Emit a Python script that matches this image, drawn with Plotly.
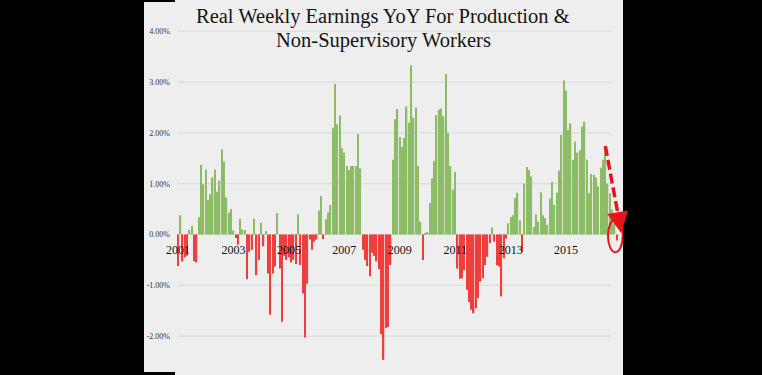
import pandas as pd
import plotly.graph_objects as go

# ---------------- data ----------------
start_month = "2001-01-01"
yoy_values = [
    -0.62, 0.38, -0.53, -0.45, -0.42, 0.09, 0.17, -0.52, -0.55, 0.34,
    1.37, 0.99, 1.28, 0.68, 0.79, 1.12, 1.28, 0.84, 1.06, 1.68,
    1.43, 0.73, 0.43, 0.50, 0.08, -0.07, -0.20, 0.31, 0.10, 0.09,
    -0.88, -0.34, -0.30, 0.31, -0.80, -0.50, 0.23, -0.23, 0.07, -0.77,
    -1.58, -0.77, -0.63, 0.42, -0.67, -1.72, -0.42, -0.50, -0.45, -0.55,
    -0.50, -0.58, 0.40, -0.60, -1.16, -2.03, -0.97, -0.10, -0.30, -0.14,
    -0.10, 0.47, 0.76, -0.09, 0.30, 0.43, 0.58, 2.10, 2.96, 2.17,
    2.34, 1.70, 1.61, 1.35, 1.27, 1.35, 1.35, 1.35, 1.98, 1.30,
    -0.30, -0.50, -0.62, -0.82, -0.36, -0.42, -0.53, -0.68, -1.96, -2.47,
    -1.84, -1.82, -0.60, 1.47, 2.27, 2.47, 1.92, 1.72, 1.90, 2.52,
    2.20, 3.33, 2.30, 2.50, 1.35, 0.25, -0.50, 0.03, 0.05, 0.62,
    1.10, 1.44, 2.35, 2.46, 2.48, 2.33, 3.16, 2.00, 1.35, 0.88,
    1.23, -0.67, -0.87, -0.86, -0.70, -1.09, -1.33, -1.48, -1.55, -1.45,
    -1.25, -0.93, -0.86, -0.60, -0.44, -0.17, 0.14, -0.14, -0.60, -0.63,
    -1.22, -0.47, -0.08, 0.22, 0.34, 0.38, 0.72, 0.82, 0.28, -0.34,
    1.00, 1.33, 1.27, 1.14, 0.15, 0.40, 0.25, 0.83, 0.38, 0.32,
    0.19, 0.71, 1.04, 0.58, 0.82, 1.26, 1.96, 3.03, 2.83, 2.06,
    2.19, 1.47, 1.83, 1.61, 1.66, 2.12, 2.22, 1.47, 0.81, 1.19,
    1.17, 1.12, 0.95, 1.32, 1.47, 1.74, 1.00, 0.81, 0.49, 0.22,
    -0.12,
]
months = pd.date_range(start_month, periods=len(yoy_values), freq="MS")

year_ticks = ["2001", "2003", "2005", "2007", "2009", "2011", "2013", "2015"]
y_tick_vals = [-2, -1, 0, 1, 2, 3, 4]
y_tick_text = ["-2.00%", "-1.00%", "0.00%", "1.00%", "2.00%", "3.00%", "4.00%"]

title_lines = ["Real Weekly Earnings YoY For Production &", "Non-Supervisory Workers"]

# ---------------- styling ----------------
GREEN = "#8cbd66"
RED = "#ee3e3e"
PANEL = "#eeeeee"
GRID = "#d8d8d8"
ACCENT = "#e8141a"
SERIF = "Liberation Serif, Times New Roman, serif"

W, H = 762, 375
L_PX, R_PX = 175, 623
Y_MIN, Y_MAX = -2.766, 4.616

colors = [GREEN if v >= 0 else RED for v in yoy_values]

fig = go.Figure()
fig.add_trace(go.Bar(
    x=months, y=yoy_values,
    marker=dict(color=colors, line=dict(width=0)),
    showlegend=False, hoverinfo="skip",
))

plot_w = R_PX - L_PX
zero_pos = (0 - Y_MIN) / (Y_MAX - Y_MIN)

shapes = [
    dict(type="rect", xref="paper", yref="paper",
         x0=(144 - L_PX) / plot_w, x1=1.0, y0=3 / H, y1=373 / H,
         fillcolor=PANEL, line=dict(width=0), layer="below"),
]
for v in y_tick_vals:
    shapes.append(dict(type="line", xref="paper", yref="y",
                       x0=(177 - L_PX) / plot_w, x1=(611 - L_PX) / plot_w,
                       y0=v, y1=v, line=dict(color=GRID, width=1), layer="below"))

def month_date(m):
    return pd.Timestamp(start_month) + pd.Timedelta(days=m * 30.44)

peak_idx = 185
shapes.append(dict(type="line", xref="x", yref="y",
                   x0=months[peak_idx], y0=yoy_values[peak_idx],
                   x1=month_date(191.1), y1=0.24,
                   line=dict(color=ACCENT, width=3.5, dash="10px,4px")))
shapes.append(dict(type="circle", xref="x", yref="y",
                   x0=month_date(186.1), x1=month_date(192.5),
                   y0=-0.35, y1=0.30,
                   line=dict(color=ACCENT, width=2)))

title_x = (383 - L_PX) / plot_w
annotations = [
    dict(text=title_lines[0], xref="paper", yref="paper", x=title_x, y=1 - 29 / H,
         xanchor="center", yanchor="bottom", showarrow=False, borderpad=0,
         font=dict(family=SERIF, size=20.5, color="#151515")),
    dict(text=title_lines[1], xref="paper", yref="paper", x=title_x, y=1 - 53 / H,
         xanchor="center", yanchor="bottom", showarrow=False, borderpad=0,
         font=dict(family=SERIF, size=20.5, color="#151515")),
    dict(x=month_date(191.8), y=0.03, xref="x", yref="y",
         ax=-2, ay=-12, axref="pixel", ayref="pixel",
         showarrow=True, arrowhead=2, arrowsize=1.2, arrowwidth=3.5,
         arrowcolor=ACCENT, text=""),
]

fig.update_layout(
    width=W, height=H,
    margin=dict(l=L_PX, r=W - R_PX, t=0, b=0),
    paper_bgcolor="black",
    plot_bgcolor=PANEL,
    bargap=0.35,
    shapes=shapes,
    annotations=annotations,
    xaxis=dict(type="date", range=["2000-11-21", "2017-01-20"],
               tickvals=[f"{y}-01-01" for y in year_ticks], ticktext=year_ticks,
               anchor="free", position=zero_pos,
               showgrid=False, zeroline=False, showline=False, ticks="",
               ticklabelstandoff=7,
               tickfont=dict(family=SERIF, size=12, color="#111111")),
    yaxis=dict(range=[Y_MIN, Y_MAX], tickvals=y_tick_vals, ticktext=y_tick_text,
               showgrid=False, zeroline=False, showline=False, ticks="",
               ticklabelstandoff=4,
               tickfont=dict(family=SERIF, size=8, color="#333333")),
)

fig.write_html("out.html",
               config={"displayModeBar": False},
               post_script="document.body.style.margin='0';document.body.style.padding='0';")
